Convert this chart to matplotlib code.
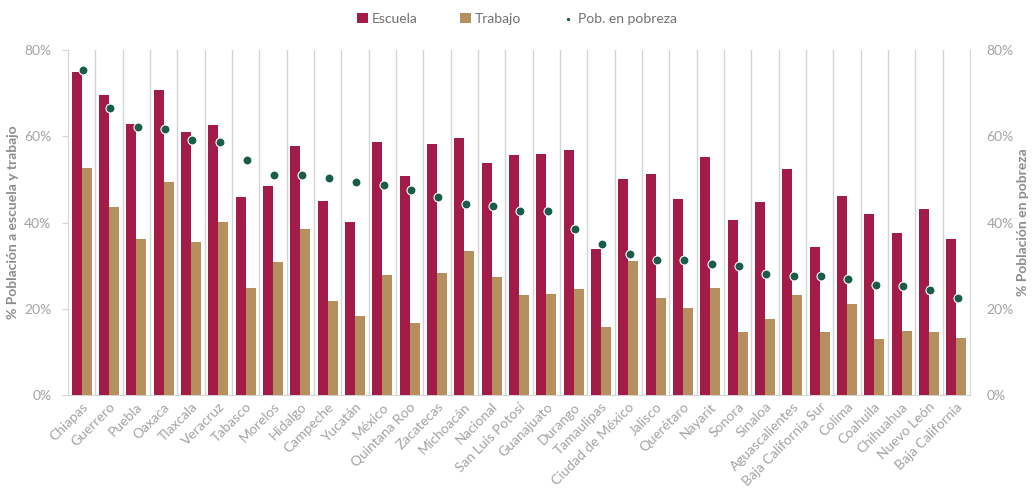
import matplotlib
matplotlib.use("Agg")
import matplotlib.pyplot as plt
import numpy as np
from matplotlib.ticker import PercentFormatter

# ── data ──────────────────────────────────────────────────────────────────────
estados = [
    "Chiapas", "Guerrero", "Puebla", "Oaxaca", "Tlaxcala", "Veracruz", "Tabasco",
    "Morelos", "Hidalgo", "Campeche", "Yucatán", "México", "Quintana Roo",
    "Zacatecas", "Michoacán", "Nacional", "San Luis Potosí", "Guanajuato",
    "Durango", "Tamaulipas", "Ciudad de México", "Jalisco", "Querétaro",
    "Nayarit", "Sonora", "Sinaloa", "Aguascalientes", "Baja California Sur",
    "Colima", "Coahuila", "Chihuahua", "Nuevo León", "Baja California",
]
escuela = [74.8, 69.6, 62.8, 70.8, 60.9, 62.6, 45.8, 48.5, 57.7, 45.1, 40.2,
           58.7, 50.8, 58.1, 59.5, 53.9, 55.7, 55.8, 56.9, 33.8, 50.2, 51.2,
           45.4, 55.3, 40.6, 44.8, 52.3, 34.4, 46.1, 42.0, 37.5, 43.1, 36.2]
trabajo = [52.6, 43.7, 36.1, 49.5, 35.5, 40.1, 24.9, 30.9, 38.6, 21.9, 18.3,
           27.8, 16.6, 28.2, 33.4, 27.3, 23.3, 23.5, 24.5, 15.8, 31.0, 22.6,
           20.1, 24.7, 14.5, 17.6, 23.2, 14.5, 21.0, 13.0, 14.8, 14.7, 13.3]
pobreza = [75.4, 66.5, 62.2, 61.6, 59.1, 58.6, 54.5, 50.9, 50.9, 50.4, 49.3,
           48.8, 47.5, 45.9, 44.4, 43.8, 42.7, 42.7, 38.6, 34.9, 32.6, 31.4,
           31.3, 30.3, 29.8, 28.0, 27.6, 27.6, 26.8, 25.5, 25.3, 24.3, 22.6]

# ── theme ─────────────────────────────────────────────────────────────────────
VINO   = "#A31C48"
DORADO = "#B58F5E"
VERDE  = "#1A5C4B"
GRIS   = "#A3A3A3"
GRID   = "#D4D4D4"

plt.rcParams["font.family"] = ["Lato", "DejaVu Sans"]

fig = plt.figure(figsize=(10.34, 4.99), dpi=100)
ax = fig.add_axes([68 / 1034, 104 / 499, (970 - 68) / 1034, 345 / 499])
ax2 = ax.twinx()

x = np.arange(len(estados))
w = 0.36
b1 = ax.bar(x - w / 2, escuela, w, color=VINO, label="Escuela", zorder=3)
b2 = ax.bar(x + w / 2, trabajo, w, color=DORADO, label="Trabajo", zorder=3)
sc = ax2.scatter(x + 0.05, pobreza, s=42, color=VERDE, edgecolors="white",
                 linewidths=0.8, zorder=4, label="Pob. en pobreza")

for a in (ax, ax2):
    a.set_ylim(0, 80)
    a.set_yticks([0, 20, 40, 60, 80])
    a.yaxis.set_major_formatter(PercentFormatter(decimals=0))
    for s in a.spines.values():
        s.set_visible(False)
ax.set_xlim(-0.5, len(estados) - 0.5)

# vertical separators between states
ax.set_xticks(x[:-1] + 0.5, minor=True)
ax.grid(True, which="minor", axis="x", color=GRID, linewidth=1, zorder=0)
ax.tick_params(axis="x", which="minor", length=0)

ax.spines["left"].set_visible(True)
ax.spines["left"].set_color(GRID)
ax.spines["bottom"].set_visible(True)
ax.spines["bottom"].set_color(GRID)
ax2.spines["right"].set_visible(True)
ax2.spines["right"].set_color(GRID)

ax.set_xticks(x)
ax.set_xticklabels(estados, rotation=45, ha="right", rotation_mode="anchor",
                   fontsize=10, color=GRIS)
ax.tick_params(axis="x", which="major", length=0, pad=4)
ax.tick_params(axis="y", colors=GRIS, labelsize=10, length=4, color=GRID, pad=8)
ax2.tick_params(axis="y", colors=GRIS, labelsize=10, length=0, pad=12)

ax.set_ylabel("% Población a escuela y trabajo", color="#8C8C8C",
              fontsize=10, fontweight="bold", labelpad=4)
ax2.set_ylabel("% Población en pobreza", color="#8C8C8C",
               fontsize=10, fontweight="bold", labelpad=2)

fig.legend(handles=[b1, b2, sc], loc="upper center", bbox_to_anchor=(0.5, 1.0),
           ncol=3, frameon=False, fontsize=10, labelcolor="#707070",
           handlelength=0.8, handleheight=0.8, handletextpad=0.3,
           columnspacing=3.0, markerscale=0.5)

fig.savefig("out.png", dpi=100, facecolor="white")
